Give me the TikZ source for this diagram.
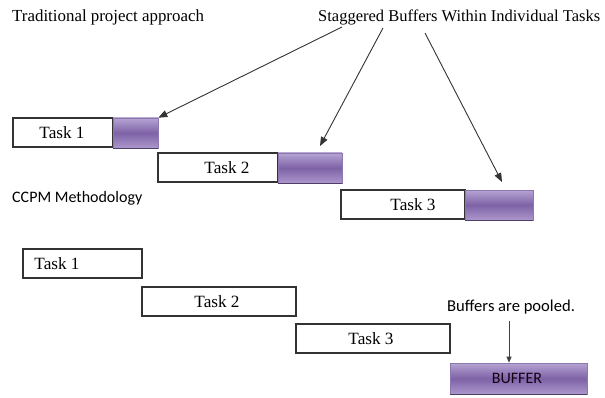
\documentclass[tikz,border=0pt]{standalone}
\usepackage{fontspec}
\setmainfont{Liberation Serif}
\newfontfamily\calibri{Carlito}
\usetikzlibrary{arrows.meta}
\definecolor{bufTop}{HTML}{B6A4D4}
\definecolor{bufMid}{HTML}{7E62A6}
\definecolor{bufBot}{HTML}{AC97CC}
\definecolor{bufEdge}{HTML}{8C78B0}
\definecolor{bufShadow}{HTML}{4E3F66}
\definecolor{boxEdge}{HTML}{333333}
\tikzset{
  x=1pt,y=1pt,
  taskbox/.style={draw=boxEdge, line width=1.1pt, fill=white, inner sep=0pt},
  bufbox/.style={draw=bufEdge, line width=0.6pt, inner sep=0pt,
     top color=bufTop, bottom color=bufBot, middle color=bufMid},
  titletext/.style={font=\fontsize{16.9}{20}\selectfont, inner sep=0pt},
  tasktext/.style={font=\fontsize{17.2}{20}\selectfont, inner sep=0pt},
  caltext/.style={font=\calibri\fontsize{16}{19}\selectfont, inner sep=0pt},
  pointer/.style={draw=black!80, line width=0.9pt, -{Triangle[length=9pt,width=7pt]}},
  smallpointer/.style={draw=black!75, line width=0.9pt, -{Triangle[length=6pt,width=5pt]}},
}
\newcommand{\bufshadow}[1]{\draw[bufShadow, line width=1.2pt] (#1.south west) -- (#1.south east);}
\begin{document}
\begin{tikzpicture}
\useasboundingbox (0,0) rectangle (605,397);
% titles
\node[titletext, anchor=west] (trad) at (12,380) {Traditional project approach};
\node[titletext, anchor=west, font=\fontsize{16.5}{20}\selectfont] (stag) at (318,380) {Staggered Buffers Within Individual Tasks};
\coordinate (s1) at (342,370);
\coordinate (s2) at (383,369);
\coordinate (s3) at (425,364);
% traditional tasks
\node[taskbox, minimum width=100pt, minimum height=29pt] (ta1) at (63,264.5) {};
\node[tasktext] (ta1l) at (62,264) {Task 1};
\node[bufbox, minimum width=45pt, minimum height=30pt] (bu1) at (135.5,264) {};
\bufshadow{bu1}
\node[taskbox, minimum width=120pt, minimum height=29pt] (ta2) at (218,229.5) {};
\node[tasktext] (ta2l) at (227,229) {Task 2};
\node[bufbox, minimum width=64pt, minimum height=30pt] (bu2) at (310,229) {};
\bufshadow{bu2}
\node[taskbox, minimum width=124pt, minimum height=29pt] (ta3) at (403,192.5) {};
\node[tasktext] (ta3l) at (413,192) {Task 3};
\node[bufbox, minimum width=68pt, minimum height=30pt] (bu3) at (499,192) {};
\bufshadow{bu3}
\coordinate (e2) at (320,251);
\coordinate (e3) at (502,215);
\draw[pointer] (s1) -- (bu1.north east);
\draw[pointer] (s2) -- (e2);
\draw[pointer] (s3) -- (e3);
% CCPM
\node[caltext, anchor=west] (ccpm) at (12,199) {CCPM Methodology};
\node[taskbox, minimum width=119pt, minimum height=29pt] (c1) at (82.5,133.5) {};
\node[tasktext] (c1l) at (57,133.5) {Task 1};
\node[taskbox, minimum width=154pt, minimum height=29pt] (c2) at (219,95.5) {};
\node[tasktext] (c2l) at (217,95.5) {Task 2};
\node[taskbox, minimum width=154pt, minimum height=29pt] (c3) at (373,58.5) {};
\node[tasktext] (c3l) at (371,58.5) {Task 3};
\node[bufbox, minimum width=137pt, minimum height=31pt] (cb) at (518.5,18.5) {};
\bufshadow{cb}
\node[caltext, text=black!85!violet, font=\calibri\fontsize{16}{18}\selectfont] (cbl) at (517,18.5) {BUFFER};
\node[caltext, anchor=west, font=\calibri\fontsize{16.6}{19}\selectfont] (pooled) at (447,90) {Buffers are pooled.};
\coordinate (p1) at (509,76);
\draw[smallpointer] (p1) -- (cb.north -| p1);
\end{tikzpicture}
\end{document}
